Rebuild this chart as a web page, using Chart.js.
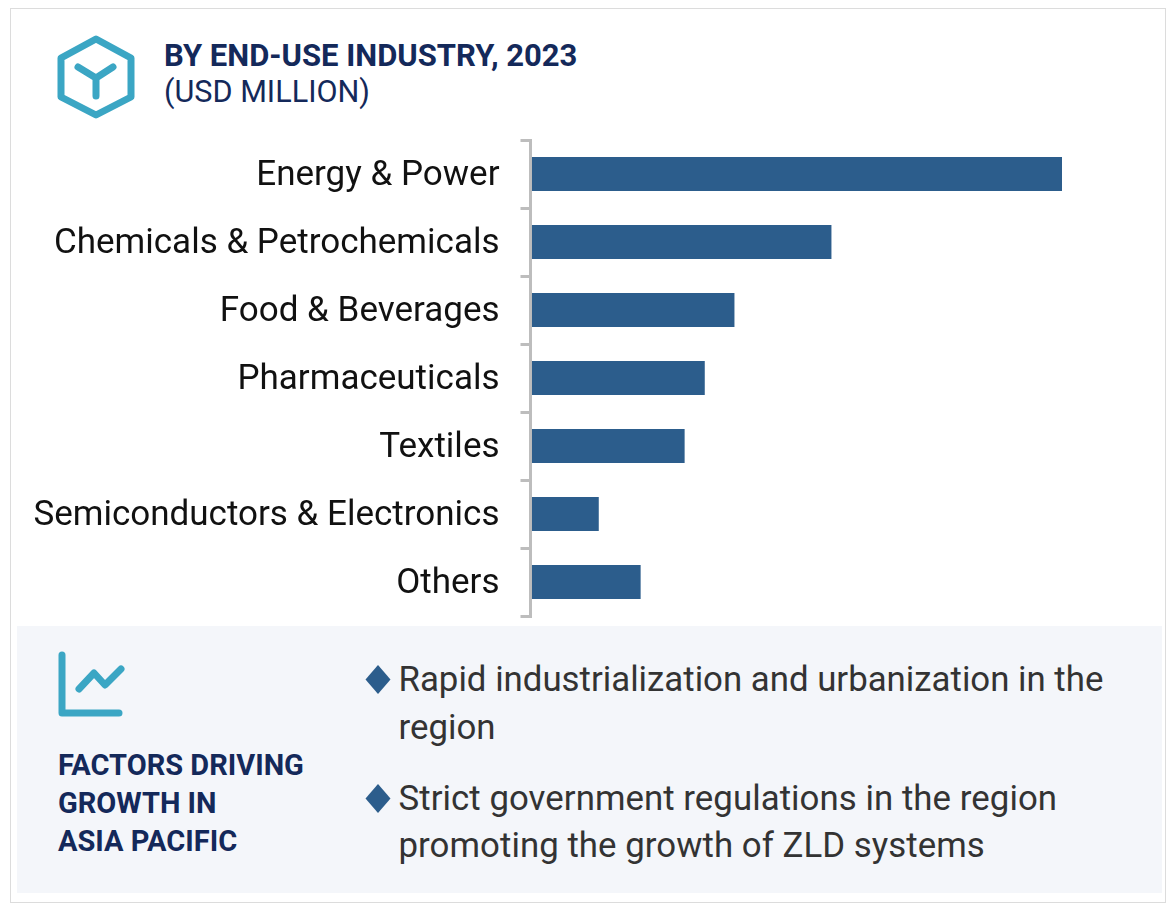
<!DOCTYPE html>
<html>
<head>
<meta charset="utf-8">
<script src="https://cdn.jsdelivr.net/npm/chart.js@4"></script>
<style>
html, body { margin: 0; padding: 0; background: #fff; font-family: Roboto, sans-serif; }
#page { position: relative; width: 1170px; height: 903px; overflow: hidden; }
#frame { position: absolute; left: 10px; top: 8px; width: 1154px; height: 893px; border: 1px solid #dcdcdc; }
#panel { position: absolute; left: 17px; top: 626px; width: 1145px; height: 267px; background: #f4f6fa; }
.t { position: absolute; white-space: nowrap; }
#title { left: 164px; top: 38px; font-size: 31px; line-height: 36px; font-weight: 700; color: #14295a; }
#unit { left: 164px; top: 74px; font-size: 30.6px; line-height: 36px; color: #14295a; }
#factors { left: 58px; top: 745.500px; font-size: 29px; line-height: 38px; font-weight: 700; color: #14295a; }
.b { left: 398.500px; font-size: 34.800px; line-height: 47.700px; color: #333; }
svg { position: absolute; left: 0; top: 0; }
canvas { position: absolute; left: 0; top: 130px; }
</style>
</head>
<body>
<div id="page">
  <div id="frame"></div>
  <div id="panel"></div>
  <svg width="1170" height="903" fill="none" stroke-linecap="round" stroke-linejoin="round">
    <path d="M96 39 L131 58 L131 97 L96 115 L61 97 L61 58 Z" stroke="#3ba6c4" stroke-width="7"/>
    <path d="M78 67 L96 78 L113 67 M96 78 L96 96" stroke="#3ba6c4" stroke-width="7"/>
    <path d="M62 655 L62 713 L119 713" stroke="#3ba6c4" stroke-width="7"/>
    <path d="M79 689 L94 673 L105 685 L121 669" stroke="#3ba6c4" stroke-width="7"/>
    <path d="M378 665 L390.500 679.500 L378 694 L365.500 679.500 Z" fill="#2c5d8c"/>
    <path d="M378 784 L390.500 798.500 L378 813 L365.500 798.500 Z" fill="#2c5d8c"/>
  </svg>
  <div class="t" id="title">BY END-USE INDUSTRY, 2023</div>
  <div class="t" id="unit">(USD MILLION)</div>
  <div class="t" id="factors">FACTORS DRIVING<br>GROWTH IN<br>ASIA PACIFIC</div>
  <div class="t b" style="top:656px">Rapid industrialization and urbanization in the<br>region</div>
  <div class="t b" style="top:774.500px; letter-spacing:0.05px">Strict government regulations in the region<br>promoting the growth of ZLD systems</div>
  <canvas id="my-chart" width="1170" height="500"></canvas>
</div>
<script>
// values are read off the bar lengths, the original has no value axis
let categories = ['Energy & Power', 'Chemicals & Petrochemicals', 'Food & Beverages', 'Pharmaceuticals', 'Textiles', 'Semiconductors & Electronics', 'Others'];
let marketSize = [100, 56.5, 38.2, 32.6, 28.8, 12.6, 20.5];

new Chart('my-chart', {
    type: 'bar',
    data: {
        labels: categories,
        datasets: [
            {
                label: 'USD Million',
                data: marketSize,
                backgroundColor: '#2c5d8c',
                categoryPercentage: 1,
                barPercentage: 0.5
            }
        ]
    },
    options: {
        indexAxis: 'y',
        responsive: false,
        animation: false,
        layout: { padding: { top: 10, bottom: 14, left: 0, right: 108 } },
        plugins: { legend: { display: false }, tooltip: { enabled: false } },
        scales: {
            // min just under 0 so the axis line sits left of where the bars start
            x: { display: false, min: -0.28, max: 100 },
            y: {
                afterFit: function (scale) {
                    scale.width = 530.5;
                    // no room wanted for the first and last label, the axis fills the band
                    scale.paddingTop = 0;
                    scale.paddingBottom = 0;
                },
                border: { color: '#bdbdbd', width: 3 },
                grid: { drawOnChartArea: false, color: '#bdbdbd', lineWidth: 3, tickLength: 10 },
                ticks: { color: '#111', padding: 21, labelOffset: 2, font: { family: 'Roboto', size: 35 } }
            }
        }
    }
});
</script>
</body>
</html>
